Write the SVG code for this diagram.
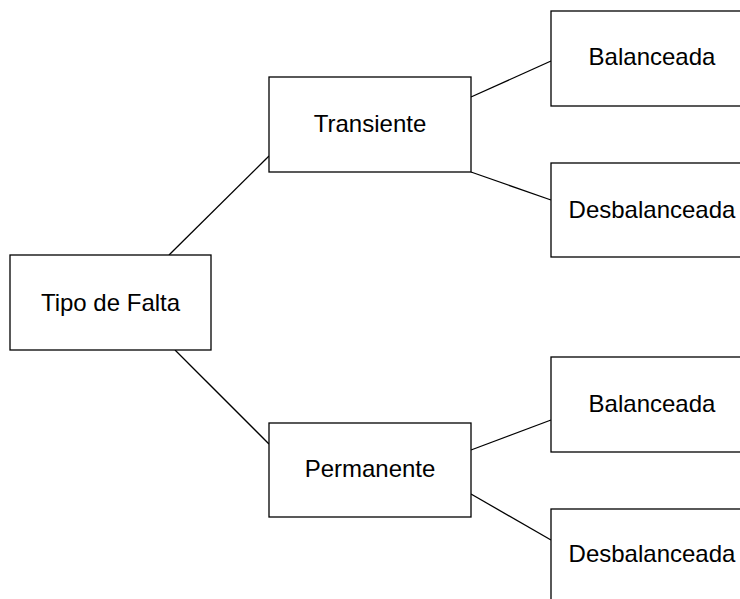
<svg xmlns="http://www.w3.org/2000/svg" width="740" height="599" viewBox="0 0 740 599">
<style>
.box{fill:#ffffff;stroke:#000000;stroke-width:1.3}
.lbl{font-family:"Liberation Sans",Arial,sans-serif;font-size:24px;fill:#000000;text-anchor:middle}
.conn{stroke:#000000;stroke-width:1.3;fill:none}
</style>
<rect width="740" height="599" fill="#ffffff"/>
<g id="connectors">
<line class="conn" x1="169" y1="255" x2="269" y2="156"/>
<line class="conn" x1="175" y1="350" x2="269" y2="444"/>
<line class="conn" x1="471" y1="97" x2="551" y2="61"/>
<line class="conn" x1="471" y1="172" x2="551" y2="200"/>
<line class="conn" x1="471" y1="450" x2="551" y2="420"/>
<line class="conn" x1="471" y1="494" x2="551" y2="540"/>
</g>
<g id="node-tipo">
<rect class="box" x="10" y="255" width="201" height="95"/>
<text class="lbl" x="110.5" y="311">Tipo de Falta</text>
</g>
<g id="node-transiente">
<rect class="box" x="269" y="77" width="202" height="95"/>
<text class="lbl" x="370" y="131.5">Transiente</text>
</g>
<g id="node-permanente">
<rect class="box" x="269" y="423" width="202" height="94"/>
<text class="lbl" x="370" y="477">Permanente</text>
</g>
<g id="node-balanceada-1">
<rect class="box" x="551" y="11" width="201" height="95"/>
<text class="lbl" x="652" y="65">Balanceada</text>
</g>
<g id="node-desbalanceada-1">
<rect class="box" x="551" y="163" width="201" height="94"/>
<text class="lbl" x="652" y="218">Desbalanceada</text>
</g>
<g id="node-balanceada-2">
<rect class="box" x="551" y="357" width="201" height="95"/>
<text class="lbl" x="652" y="412">Balanceada</text>
</g>
<g id="node-desbalanceada-2">
<rect class="box" x="551" y="509" width="201" height="95"/>
<text class="lbl" x="652" y="562">Desbalanceada</text>
</g>
</svg>
